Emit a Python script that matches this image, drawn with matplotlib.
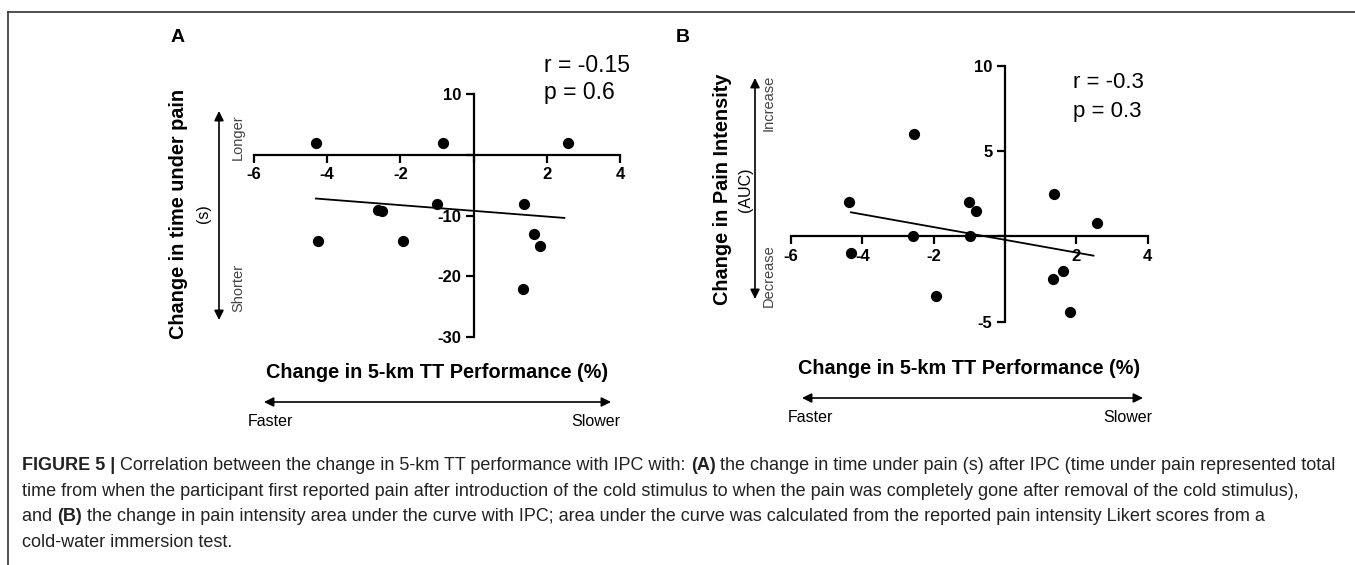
import numpy as np
from matplotlib import pyplot as plt

plt.rcParams['font.family'] = ['Liberation Sans', 'DejaVu Sans']

# panel A: change in 5-km TT performance (%) vs change in time under pain (s)
tt_a = [-4.31, -4.26, -2.62, -2.50, -1.92, -0.99, -0.83, 1.34, 1.38, 1.65, 1.81, 2.57]
pain_time = [2.0, -14.2, -9.1, -9.2, -14.2, -8.1, 2.0, -22.2, -8.1, -13.1, -15.1, 2.0]
fit_a_x = [-4.31, 2.48]
fit_a_y = [-7.2, -10.4]

# panel B: change in 5-km TT performance (%) vs change in pain intensity (AUC)
tt_b = [-4.37, -4.32, -2.57, -2.54, -1.93, -1.00, -0.98, -0.82, 1.34, 1.38, 1.63, 1.82, 2.58]
pain_auc = [2.0, -1.0, 0.0, 6.0, -3.5, 2.0, 0.0, 1.5, -2.5, 2.5, -2.0, -4.45, 0.8]
fit_b_x = [-4.32, 2.48]
fit_b_y = [1.41, -1.13]

W, H = 1355, 565
fig = plt.figure(figsize=(W / 100, H / 100), dpi=100)

# overlay in pixel coordinates for labels, arrows and frame
ov = fig.add_axes([0, 0, 1, 1])
ov.set_xlim(0, W)
ov.set_ylim(H, 0)
ov.axis('off')


def scatter_panel(rect, x, y, fx, fy, xlim, ylim, yticks, ylabels):
    ax = fig.add_axes(rect)
    ax.set_xlim(*xlim)
    ax.set_ylim(*ylim)
    for s in ['top', 'right']:
        ax.spines[s].set_visible(False)
    ax.spines['left'].set_position(('data', 0))
    ax.spines['bottom'].set_position(('data', 0))
    for s in ['left', 'bottom']:
        ax.spines[s].set_linewidth(1.6)
    ax.set_xticks([-6, -4, -2, 0, 2, 4])
    ax.set_xticklabels(['-6', '-4', '-2', '', '2', '4'])
    ax.set_yticks(yticks)
    ax.set_yticklabels(ylabels)
    ax.tick_params(width=1.6, length=6, labelsize=12, pad=3)
    for lab in ax.get_xticklabels() + ax.get_yticklabels():
        lab.set_fontweight('bold')
    ax.patch.set_visible(False)
    ax.scatter(x, y, s=50, color='black', zorder=3, clip_on=False)
    ax.plot(fx, fy, color='black', lw=1.3, clip_on=False)
    return ax


ax_a = scatter_panel([254 / W, 1 - 336.7 / H, 366 / W, 242.4 / H],
                     tt_a, pain_time, fit_a_x, fit_a_y, (-6, 4), (-30, 10),
                     [10, 0, -10, -20, -30], ['10', '', '-10', '-20', '-30'])
ax_b = scatter_panel([791 / W, 1 - 321.7 / H, 356.7 / W, 256 / H],
                     tt_b, pain_auc, fit_b_x, fit_b_y, (-6, 4), (-5, 10),
                     [10, 5, 0, -5], ['10', '5', '', '-5'])

# frame
ov.plot([8, W], [11.5, 11.5], color='#333333', lw=1.2)
ov.plot([8, 8], [11.5, H], color='#333333', lw=1.2)

# panel letters
ov.text(178, 37, 'A', fontsize=14, fontweight='bold', ha='center', va='center')
ov.text(683, 37, 'B', fontsize=14, fontweight='bold', ha='center', va='center')

# stats
ov.text(544, 65, 'r = -0.15', fontsize=16.5, ha='left', va='center')
ov.text(544, 93, 'p = 0.6', fontsize=16.5, ha='left', va='center')
ov.text(1073, 83, 'r = -0.3', fontsize=16, ha='left', va='center')
ov.text(1073, 112, 'p = 0.3', fontsize=16, ha='left', va='center')

arrow = dict(arrowstyle='<|-|>', color='black', lw=1.2, mutation_scale=14,
             shrinkA=0, shrinkB=0)
small = dict(fontsize=10.5, color='#444444', rotation=90, ha='center', va='center')

# panel A y-label block
ov.text(178, 214, 'Change in time under pain', fontsize=14.3, fontweight='bold',
        rotation=90, ha='center', va='center')
ov.text(203, 214, '(s)', fontsize=11.5, rotation=90, ha='center', va='center')
ov.annotate('', xy=(219, 111), xytext=(219, 320), arrowprops=arrow)
ov.text(238, 137, 'Longer', **small)
ov.text(238, 288, 'Shorter', **small)

# panel B y-label block
ov.text(723, 189, 'Change in Pain Intensity', fontsize=14.3, fontweight='bold',
        rotation=90, ha='center', va='center')
ov.text(746, 190, '(AUC)', fontsize=11.5, rotation=90, ha='center', va='center')
ov.annotate('', xy=(755, 78), xytext=(755, 299), arrowprops=arrow)
ov.text(769, 103, 'Increase', **small)
ov.text(769, 276, 'Decrease', **small)

# x-label blocks
for cx, ly, ay, x0, x1, fx, sx in [(437.5, 373, 402, 264, 611, 248, 620),
                                   (969, 368, 398, 802, 1143, 788, 1152)]:
    ov.text(cx, ly, 'Change in 5-km TT Performance (%)', fontsize=14.3,
            fontweight='bold', ha='center', va='center')
    ov.annotate('', xy=(x0, ay), xytext=(x1, ay), arrowprops=arrow)
    ov.text(fx, ay + 20, 'Faster', fontsize=11.5, ha='left', va='center')
    ov.text(sx, ay + 20, 'Slower', fontsize=11.5, ha='right', va='center')

# caption, built from bold / regular runs
caption = [
    [('FIGURE 5 |', True), (' Correlation between the change in 5-km TT performance with IPC with: ', False),
     ('(A)', True), (' the change in time under pain (s) after IPC (time under pain represented total', False)],
    [('time from when the participant first reported pain after introduction of the cold stimulus to when the pain was completely gone after removal of the cold stimulus),', False)],
    [('and ', False), ('(B)', True), (' the change in pain intensity area under the curve with IPC; area under the curve was calculated from the reported pain intensity Likert scores from a', False)],
    [('cold-water immersion test.', False)],
]
renderer = fig.canvas.get_renderer()
for i, line in enumerate(caption):
    xpos = 22
    y = 470 + i * 25.7
    for txt, bold in line:
        t = ov.text(xpos, y, txt, fontsize=13.0, color='#222222',
                    fontweight='bold' if bold else 'normal', ha='left', va='baseline')
        bb = t.get_window_extent(renderer)
        xpos += bb.width

fig.savefig('out.png', dpi=100)
